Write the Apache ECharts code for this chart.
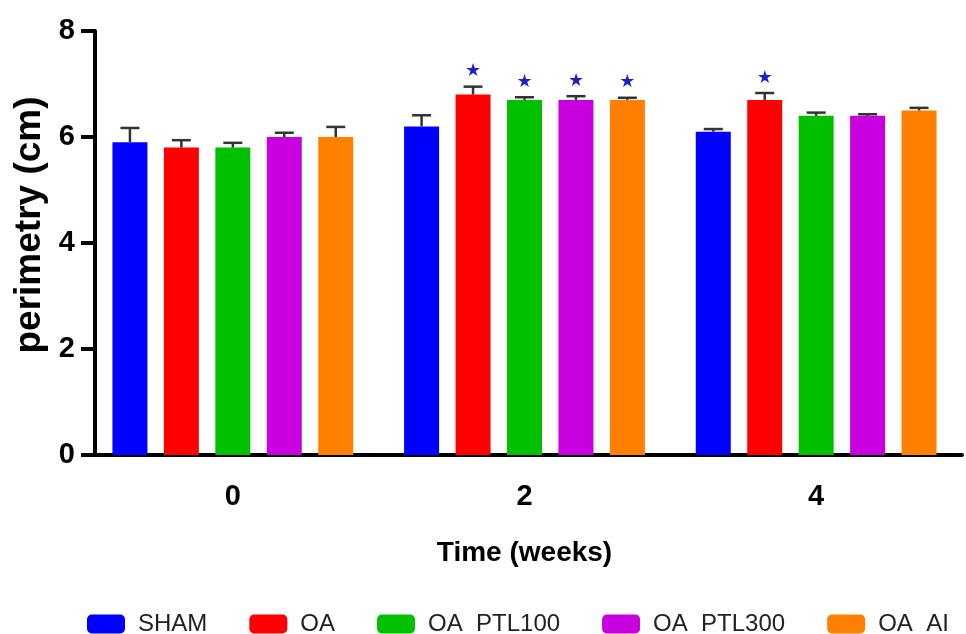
<!DOCTYPE html>
<html>
<head>
<meta charset="utf-8">
<script src="https://cdn.jsdelivr.net/npm/echarts@6/dist/echarts.min.js"></script>
<style>
  html, body { margin: 0; padding: 0; background: #fff; }
  #chart { width: 966px; height: 634px; }
</style>
</head>
<body>
<div id="chart"></div>
<script>
// data
const weeks = ['0', '2', '4']
const groups = ['SHAM', 'OA', 'OA  PTL100', 'OA  PTL300', 'OA  AI']
const colors = ['#0000ff', '#ff0000', '#00c000', '#c800e0', '#ff8000']
const meanSham = [5.9, 6.2, 6.1]
const meanOa = [5.8, 6.8, 6.7]
const meanPtl100 = [5.8, 6.7, 6.4]
const meanPtl300 = [6.0, 6.7, 6.4]
const meanAi = [6.0, 6.7, 6.5]
const sdSham = [0.27, 0.21, 0.05]
const sdOa = [0.14, 0.15, 0.13]
const sdPtl100 = [0.09, 0.05, 0.06]
const sdPtl300 = [0.08, 0.07, 0.03]
const sdAi = [0.19, 0.04, 0.05]
// significance marks (1 = star above bar)
const starSham = [0, 0, 0]
const starOa = [0, 1, 1]
const starPtl100 = [0, 1, 0]
const starPtl300 = [0, 1, 0]
const starAi = [0, 1, 0]
const yTicks = [0, 2, 4, 6, 8]

const means = [meanSham, meanOa, meanPtl100, meanPtl300, meanAi]
const sds = [sdSham, sdOa, sdPtl100, sdPtl300, sdAi]
const stars = [starSham, starOa, starPtl100, starPtl300, starAi]

const BAR_W = 35
const GAP = 0.47
const bold = { fontFamily: 'Liberation Sans, Arial, sans-serif', fontWeight: 'bold', color: '#000' }

let series = []
groups.forEach((g, i) => {
  series.push({
    name: g,
    type: 'bar',
    data: means[i],
    barWidth: BAR_W,
    barGap: (GAP * 100) + '%',
    itemStyle: { color: colors[i] },
    z: 2
  })
})
// error bars (mean + SD) and stars
groups.forEach((g, i) => {
  let rows = weeks.map((w, k) => [k, means[i][k], sds[i][k], stars[i][k]])
  series.push({
    type: 'custom',
    data: rows,
    z: 3,
    silent: true,
    renderItem(params, api) {
      let off = (i - 2) * BAR_W * (1 + GAP)
      let base = api.coord([api.value(0), api.value(1)])
      let top = api.coord([api.value(0), api.value(1) + api.value(2)])
      let x = base[0] + off
      let cap = 9.5
      let st = { stroke: '#333', lineWidth: 2.5 }
      let children = [
        { type: 'line', shape: { x1: x, y1: base[1], x2: x, y2: top[1] }, style: st },
        { type: 'line', shape: { x1: x - cap, y1: top[1], x2: x + cap, y2: top[1] }, style: st }
      ]
      if (api.value(3)) {
        children.push({
          type: 'text',
          style: { text: '★', x: x, y: top[1] - 15, fill: '#1f1fc8', font: '18px DejaVu Sans', align: 'center', verticalAlign: 'middle' }
        })
      }
      return { type: 'group', children: children }
    }
  })
})

let chart = echarts.init(document.getElementById('chart'))
chart.setOption({
  animation: false,
  grid: { left: 87, right: 4, top: 31, bottom: 179 },
  legend: {
    data: groups,
    left: 82,
    bottom: -7,
    itemWidth: 38,
    itemHeight: 19,
    itemGap: 42,
    icon: 'roundRect',
    textStyle: { fontFamily: 'Liberation Sans, Arial, sans-serif', fontSize: 24, color: '#222', padding: [0, 0, 0, 8] }
  },
  xAxis: {
    type: 'category',
    data: weeks,
    name: 'Time (weeks)',
    nameLocation: 'middle',
    nameGap: 84,
    nameTextStyle: Object.assign({ fontSize: 28 }, bold),
    axisLine: { lineStyle: { color: '#000', width: 4 } },
    axisTick: { alignWithLabel: true, length: 13, lineStyle: { width: 4, color: '#000' } },
    axisLabel: Object.assign({ fontSize: 29, margin: 27 }, bold)
  },
  yAxis: {
    type: 'value',
    min: yTicks[0],
    max: yTicks[yTicks.length - 1],
    interval: 2,
    offset: -8,
    name: 'perimetry (cm)',
    nameLocation: 'middle',
    nameGap: 44,
    nameTextStyle: Object.assign({ fontSize: 37, padding: [0, 0, 0, 36] }, bold),
    splitLine: { show: false },
    axisLine: { show: true, lineStyle: { color: '#000', width: 4 } },
    axisTick: { show: true, length: 14, lineStyle: { width: 4, color: '#000' } },
    axisLabel: Object.assign({ fontSize: 29, margin: 20 }, bold)
  },
  series: series
})
</script>
</body>
</html>
